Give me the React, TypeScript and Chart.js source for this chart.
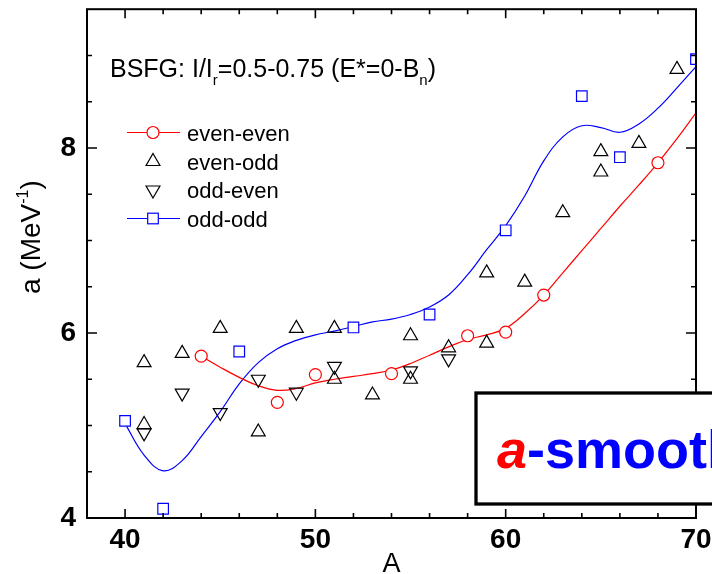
import React, { useEffect, useRef } from 'react';
import { Chart, registerables } from 'chart.js';

Chart.register(...registerables);

// ---- data ----
const evenEvenA = [44, 48, 50, 54, 58, 60, 62, 68];
const evenEvenVal = [5.75, 5.25, 5.55, 5.56, 5.97, 6.01, 6.41, 7.84];

const evenOddA = [41, 41, 43, 45, 47, 49, 51, 51, 53, 55, 55, 57, 59, 59, 61, 63, 65, 65, 67, 69];
const evenOddVal = [5.68, 5.01, 5.78, 6.05, 4.93, 6.05, 6.05, 5.5, 5.33, 5.97, 5.5, 5.84, 5.89, 6.65, 6.55, 7.3, 7.74, 7.96, 8.05, 8.85];

const oddEvenA = [41, 43, 45, 47, 49, 51, 55, 57];
const oddEvenVal = [4.92, 5.35, 5.14, 5.5, 5.36, 5.64, 5.59, 5.72];

const oddOddA = [40, 42, 46, 52, 56, 60, 64, 66, 70];
const oddOddVal = [5.05, 4.1, 5.8, 6.06, 6.2, 7.11, 8.56, 7.9, 8.96];

// smooth fits
const evenFitA = [44, 45, 46, 47, 48, 49, 50, 51, 52, 53, 54, 55, 56, 57, 58, 59, 60, 61, 62, 63, 64, 65, 66, 67, 68, 69, 70];
const evenFitVal = [5.75, 5.63, 5.52, 5.43, 5.38, 5.4, 5.46, 5.5, 5.53, 5.56, 5.6, 5.67, 5.76, 5.85, 5.93, 5.98, 6.05, 6.21, 6.41, 6.65, 6.89, 7.13, 7.37, 7.6, 7.84, 8.1, 8.38];

const oddFitA = [40, 41, 42, 43, 44, 45, 46, 47, 48, 49, 50, 51, 52, 53, 54, 55, 56, 57, 58, 59, 60, 61, 62, 63, 64, 65, 66, 67, 68, 69, 70];
const oddFitVal = [5.02, 4.68, 4.51, 4.62, 4.88, 5.15, 5.45, 5.68, 5.83, 5.92, 5.98, 6.02, 6.07, 6.12, 6.15, 6.2, 6.28, 6.41, 6.63, 6.9, 7.16, 7.48, 7.86, 8.12, 8.24, 8.22, 8.17, 8.26, 8.43, 8.65, 8.88];

const xTickValues = [40, 50, 60, 70];
const yTickValues = [4, 6, 8];
const xMin = 38, xMax = 70, yMin = 4, yMax = 9.5;
const xMinorStep = 2, yMinorStep = 0.5;

const legendLabels = ['even-even', 'even-odd', 'odd-even', 'odd-odd'];

const FONT = '"Liberation Sans", Arial, Helvetica, sans-serif';
const RED = '#ff0000';
const BLUE = '#0000ff';

const pts = (xs: number[], ys: number[]) => xs.map((x, i) => ({ x, y: ys[i] }));

type Seg = { t: string; size: number; dy?: number; weight?: string; style?: string; color?: string };

function drawSegs(ctx: CanvasRenderingContext2D, x: number, y: number, segs: Seg[]) {
  let cx = x;
  for (const s of segs) {
    ctx.font = `${s.style || 'normal'} ${s.weight || 'normal'} ${s.size}px ${FONT}`;
    ctx.fillStyle = s.color || '#000';
    ctx.fillText(s.t, cx, y + (s.dy || 0));
    cx += ctx.measureText(s.t).width;
  }
}

const overlayPlugin = {
  id: 'overlay',
  afterDraw(chart: any) {
    const { ctx, chartArea: ca, scales } = chart;
    const xs = scales.x;
    const ys = scales.y;
    ctx.save();

    // frame
    ctx.strokeStyle = '#000';
    ctx.lineWidth = 2;
    ctx.strokeRect(ca.left, ca.top, ca.right - ca.left, ca.bottom - ca.top);

    // ticks (inward, all four sides)
    ctx.lineWidth = 1.6;
    ctx.beginPath();
    for (let v = xTickValues[0]; v < xMax - 0.01; v += xMinorStep) {
      const px = xs.getPixelForValue(v);
      const len = xTickValues.includes(v) ? 9 : 5;
      ctx.moveTo(px, ca.bottom);
      ctx.lineTo(px, ca.bottom - len);
      ctx.moveTo(px, ca.top);
      ctx.lineTo(px, ca.top + len);
    }
    for (let v = yMin + yMinorStep; v < yMax - 0.01; v += yMinorStep) {
      const py = ys.getPixelForValue(v);
      const len = yTickValues.includes(v) ? 10 : 5;
      ctx.moveTo(ca.left, py);
      ctx.lineTo(ca.left + len, py);
      ctx.moveTo(ca.right, py);
      ctx.lineTo(ca.right - len, py);
    }
    ctx.stroke();

    ctx.textBaseline = 'alphabetic';
    ctx.textAlign = 'left';

    // annotation line
    drawSegs(ctx, 110, 77, [
      { t: 'BSFG: I/I', size: 25 },
      { t: 'r', size: 15, dy: 8 },
      { t: '=0.5-0.75 (E*=0-B', size: 25 },
      { t: 'n', size: 15, dy: 8 },
      { t: ')', size: 25 },
    ]);

    // legend
    const rows = [132.5, 161.5, 190, 218.5];
    const mx = 153;
    ctx.lineWidth = 1.2;
    // even-even
    ctx.strokeStyle = RED;
    ctx.beginPath();
    ctx.moveTo(127, rows[0]);
    ctx.lineTo(180, rows[0]);
    ctx.stroke();
    ctx.beginPath();
    ctx.arc(mx, rows[0], 6, 0, Math.PI * 2);
    ctx.fillStyle = '#fff';
    ctx.fill();
    ctx.stroke();
    // even-odd
    const r = 8;
    const hs = r * Math.sin((2 * Math.PI) / 3);
    ctx.strokeStyle = '#000';
    ctx.beginPath();
    ctx.moveTo(mx, rows[1] - r);
    ctx.lineTo(mx + hs, rows[1] + r / 2);
    ctx.lineTo(mx - hs, rows[1] + r / 2);
    ctx.closePath();
    ctx.stroke();
    // odd-even
    ctx.beginPath();
    ctx.moveTo(mx, rows[2] + r);
    ctx.lineTo(mx + hs, rows[2] - r / 2);
    ctx.lineTo(mx - hs, rows[2] - r / 2);
    ctx.closePath();
    ctx.stroke();
    // odd-odd
    ctx.strokeStyle = BLUE;
    ctx.beginPath();
    ctx.moveTo(127, rows[3]);
    ctx.lineTo(180, rows[3]);
    ctx.stroke();
    const sq = 7.5 * Math.SQRT1_2;
    ctx.fillStyle = '#fff';
    ctx.fillRect(mx - sq, rows[3] - sq, 2 * sq, 2 * sq);
    ctx.strokeRect(mx - sq, rows[3] - sq, 2 * sq, 2 * sq);

    ctx.fillStyle = '#000';
    ctx.font = `22px ${FONT}`;
    legendLabels.forEach((l, i) => ctx.fillText(l, 187, rows[i] + 8));

    // axis titles
    ctx.font = `27px ${FONT}`;
    ctx.textAlign = 'center';
    ctx.fillText('A', (ca.left + ca.right) / 2, 572);
    ctx.textAlign = 'left';

    ctx.save();
    ctx.translate(40, 294);
    ctx.rotate(-Math.PI / 2);
    drawSegs(ctx, 0, 0, [
      { t: 'a (MeV', size: 28 },
      { t: '-1', size: 16, dy: -12 },
      { t: ')', size: 28 },
    ]);
    ctx.restore();

    // boxed label
    ctx.fillStyle = '#fff';
    ctx.fillRect(476, 393, 260, 111);
    ctx.strokeStyle = '#000';
    ctx.lineWidth = 3.3;
    ctx.strokeRect(476, 393, 260, 111);
    drawSegs(ctx, 497, 468, [
      { t: 'a', size: 54, weight: 'bold', style: 'italic', color: RED },
      { t: '-smooth', size: 54, weight: 'bold', color: BLUE },
    ]);

    ctx.restore();
  },
};

export default function App() {
  const ref = useRef<HTMLCanvasElement>(null);

  useEffect(() => {
    if (!ref.current) return;
    const chart = new Chart(ref.current, {
      type: 'scatter',
      data: {
        datasets: [
          {
            label: 'even-even',
            data: pts(evenEvenA, evenEvenVal),
            showLine: false,
            pointStyle: 'circle',
            pointRadius: 6,
            pointBorderColor: RED,
            pointBackgroundColor: '#ffffff',
            pointBorderWidth: 1.2,
          },
          {
            label: 'even-odd',
            data: pts(evenOddA, evenOddVal),
            showLine: false,
            pointStyle: 'triangle',
            pointRadius: 8,
            pointBorderColor: '#000000',
            pointBackgroundColor: 'rgba(0,0,0,0)',
            pointBorderWidth: 1.2,
          },
          {
            label: 'odd-even',
            data: pts(oddEvenA, oddEvenVal),
            showLine: false,
            pointStyle: 'triangle',
            pointRotation: 180,
            pointRadius: 8,
            pointBorderColor: '#000000',
            pointBackgroundColor: 'rgba(0,0,0,0)',
            pointBorderWidth: 1.2,
          },
          {
            label: 'odd-odd',
            data: pts(oddOddA, oddOddVal),
            showLine: false,
            pointStyle: 'rect',
            pointRadius: 7.5,
            pointBorderColor: BLUE,
            pointBackgroundColor: '#ffffff',
            pointBorderWidth: 1.2,
          },
          {
            label: 'even-even fit',
            data: pts(evenFitA, evenFitVal),
            showLine: true,
            pointRadius: 0,
            borderColor: RED,
            borderWidth: 1.2,
            tension: 0.4,
            fill: false,
          },
          {
            label: 'odd-odd fit',
            data: pts(oddFitA, oddFitVal),
            showLine: true,
            pointRadius: 0,
            borderColor: BLUE,
            borderWidth: 1.2,
            tension: 0.4,
            fill: false,
          },
        ],
      } as any,
      options: {
        animation: false,
        responsive: false,
        maintainAspectRatio: false,
        devicePixelRatio: 1,
        events: [],
        layout: { padding: { top: 8, right: 16, left: 0, bottom: 0 } },
        plugins: {
          legend: { display: false },
          tooltip: { enabled: false },
          title: { display: false },
        },
        scales: {
          x: {
            type: 'linear',
            min: xMin,
            max: xMax,
            grid: { display: false, drawTicks: false },
            border: { display: false },
            ticks: {
              autoSkip: false,
              maxRotation: 0,
              padding: 5,
              color: '#000',
              font: { family: FONT, size: 28, weight: 'bold' },
              callback: (v: any) => String(v),
            },
            afterBuildTicks: (scale: any) => {
              scale.ticks = xTickValues.map((v) => ({ value: v }));
            },
            afterFit: (scale: any) => {
              scale.height = 56;
              scale.paddingLeft = 0;
              scale.paddingRight = 0;
            },
          },
          y: {
            type: 'linear',
            min: yMin,
            max: yMax,
            grid: { display: false, drawTicks: false },
            border: { display: false },
            ticks: {
              autoSkip: false,
              padding: 11,
              color: '#000',
              font: { family: FONT, size: 28, weight: 'bold' },
              callback: (v: any) => String(v),
            },
            afterBuildTicks: (scale: any) => {
              scale.ticks = yTickValues.map((v) => ({ value: v }));
            },
            afterFit: (scale: any) => {
              scale.width = 87;
              scale.paddingTop = 0;
              scale.paddingBottom = 0;
            },
          },
        },
      } as any,
      plugins: [overlayPlugin],
    });
    return () => chart.destroy();
  }, []);

  return (
    <div style={{ position: 'fixed', left: 0, top: 0, width: 712, height: 574, background: '#fff' }}>
      <canvas ref={ref} width={712} height={574} style={{ display: 'block', width: 712, height: 574 }} />
    </div>
  );
}
